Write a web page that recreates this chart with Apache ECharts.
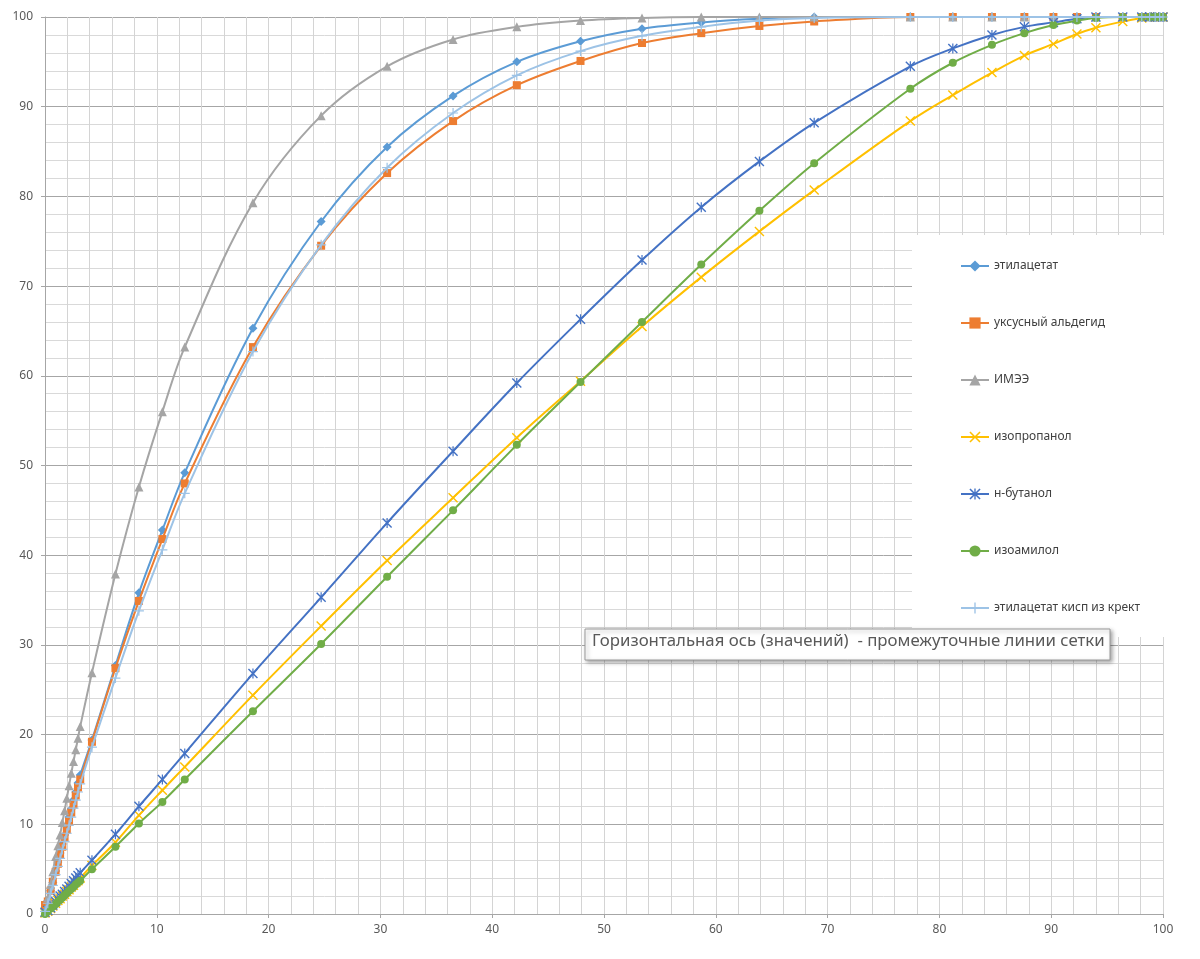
<!DOCTYPE html>
<html>
<head>
<meta charset="utf-8">
<script src="https://cdn.jsdelivr.net/npm/echarts@6/dist/echarts.min.js"></script>
<style>html,body{margin:0;padding:0;background:#fff;}#c{width:1200px;height:959px;}</style>
</head>
<body>
<div id="c"></div>
<script>
var xValues = [0, 0.25, 0.5, 0.7, 0.95, 1.15, 1.35, 1.55, 1.75, 1.95, 2.15, 2.35, 2.55, 2.75, 2.95, 3.15,
  4.2, 6.3, 8.4, 10.5, 12.5, 18.6, 24.7, 30.6, 36.5, 42.2, 47.9, 53.4, 58.7, 63.9, 68.8,
  77.4, 81.2, 84.7, 87.6, 90.2, 92.3, 94.0, 96.4, 98.1, 98.8, 99.3, 99.7, 100];

var seriesNames = ['этилацетат', 'уксусный альдегид', 'ИМЭЭ', 'изопропанол', 'н-бутанол', 'изоамилол', 'этилацетат кисп из крект'];

var ethylacetate = [0.5, 1.5, 2.6, 3.5, 4.8, 5.8, 6.8, 7.8, 8.8, 9.8, 10.8, 11.7, 12.7, 13.6, 14.6, 15.5,
  19.4, 27.7, 35.8, 42.8, 49.2, 65.3, 77.2, 85.5, 91.2, 95.0, 97.3, 98.7, 99.4, 99.8, 100,
  100, 100, 100, 100, 100, 100, 100, 100, 100, 100, 100, 100, 100];
var acetaldehyde = [1.0, 1.4, 2.6, 3.6, 4.7, 5.6, 6.6, 7.5, 8.5, 9.4, 10.3, 11.3, 12.2, 13.2, 14.1, 15.0,
  19.2, 27.4, 34.9, 41.8, 48.0, 63.2, 74.5, 82.6, 88.4, 92.4, 95.1, 97.1, 98.2, 99.0, 99.5,
  100, 100, 100, 100, 100, 100, 100, 100, 100, 100, 100, 100, 100];
var imee = [0.3, 1.8, 3.3, 4.7, 6.4, 7.6, 8.8, 10.2, 11.5, 12.9, 14.3, 15.7, 17.0, 18.3, 19.6, 20.9,
  26.9, 37.9, 47.6, 56.0, 63.2, 79.3, 89.0, 94.5, 97.5, 98.9, 99.6, 99.9, 100, 100, 100,
  100, 100, 100, 100, 100, 100, 100, 100, 100, 100, 100, 100, 100];
var isopropanol = [0.1, 0.3, 0.6, 0.9, 1.2, 1.5, 1.7, 2.0, 2.2, 2.5, 2.7, 3.0, 3.2, 3.5, 3.7, 4.0,
  5.4, 8.0, 11.0, 13.8, 16.4, 24.4, 32.1, 39.4, 46.4, 53.1, 59.4, 65.5, 71.0, 76.1, 80.7,
  88.4, 91.3, 93.8, 95.7, 97.0, 98.1, 98.8, 99.5, 99.9, 100, 100, 100, 100];
var nButanol = [0.2, 0.4, 0.7, 1.0, 1.4, 1.7, 2.0, 2.2, 2.5, 2.8, 3.1, 3.4, 3.7, 4.0, 4.3, 4.6,
  6.0, 8.9, 12.0, 15.0, 17.9, 26.8, 35.3, 43.6, 51.6, 59.2, 66.3, 72.9, 78.8, 83.9, 88.2,
  94.5, 96.5, 98.0, 98.9, 99.4, 99.8, 100, 100, 100, 100, 100, 100, 100];
var isoamylol = [0.0, 0.3, 0.6, 0.8, 1.1, 1.4, 1.6, 1.8, 2.1, 2.3, 2.6, 2.8, 3.0, 3.3, 3.5, 3.7,
  5.0, 7.5, 10.1, 12.5, 15.0, 22.6, 30.1, 37.6, 45.0, 52.3, 59.3, 66.0, 72.4, 78.4, 83.7,
  92.0, 94.9, 96.9, 98.2, 99.1, 99.6, 99.9, 100, 100, 100, 100, 100, 100];
var ethylacetateCrude = [0.3, 1.2, 2.3, 3.2, 4.4, 5.3, 6.2, 7.2, 8.1, 9.0, 9.9, 10.8, 11.8, 12.7, 13.6, 14.5,
  18.6, 26.3, 33.8, 40.6, 46.9, 62.7, 74.6, 83.2, 89.3, 93.5, 96.2, 97.9, 98.9, 99.6, 99.9,
  100, 100, 100, 100, 100, 100, 100, 100, 100, 100, 100, 100, 100];

var xTicks = [0, 10, 20, 30, 40, 50, 60, 70, 80, 90, 100];
var yTicks = [0, 10, 20, 30, 40, 50, 60, 70, 80, 90, 100];

var tooltipText = 'Горизонтальная ось (значений)  - промежуточные линии сетки';

var allY = [ethylacetate, acetaldehyde, imee, isopropanol, nButanol, isoamylol, ethylacetateCrude];
var colors = ['#5B9BD5', '#ED7D31', '#A5A5A5', '#FFC000', '#4472C4', '#70AD47', '#9DC3E6'];
var symX = 'path://M1,0L5,4L9,0L10,1L6,5L10,9L9,10L5,6L1,10L0,9L4,5L0,1Z';
var symStar = 'path://M1,0L5,4L9,0L10,1L6,5L10,9L9,10L5,6L1,10L0,9L4,5L0,1ZM4.4,0H5.6V10H4.4Z';
var symPlus = 'path://M4.4,0H5.6V10H4.4ZM0,4.4H10V5.6H0Z';
var symbols = ['diamond', 'rect', 'triangle', symX, symStar, 'circle', symPlus];
var sizes = [9, 8, 9, 10, 10, 8, 10];

function pairs(ys) {
  return xValues.map(function (x, i) { return [x, ys[i]]; });
}

var series = seriesNames.map(function (name, k) {
  return {
    name: name,
    type: 'line',
    data: pairs(allY[k]),
    smooth: 0.35,
    symbol: symbols[k],
    symbolSize: sizes[k],
    showSymbol: true,
    showAllSymbol: true,
    lineStyle: { color: colors[k], width: 2 },
    itemStyle: { color: colors[k] },
    z: 2 + k * 0.01
  };
});

var chart = echarts.init(document.getElementById('c'), null, { renderer: 'canvas' });
chart.setOption({
  animation: false,
  backgroundColor: '#ffffff',
  color: colors,
  grid: { left: 45, right: 37, top: 17, bottom: 45, containLabel: false },
  xAxis: {
    type: 'value', min: 0, max: 100, interval: 10,
    axisLine: { show: true, lineStyle: { color: '#A6A6A6', width: 1 } },
    axisTick: { show: true, length: 4, lineStyle: { color: '#A6A6A6' } },
    axisLabel: { color: '#595959', fontSize: 12, fontFamily: 'Noto Sans', margin: 10,
      formatter: function (v) { return xTicks.indexOf(v) >= 0 ? String(v) : ''; } },
    splitLine: { show: true, lineStyle: { color: '#D4D4D4', width: 1 } },
    minorTick: { show: false, splitNumber: 5 },
    minorSplitLine: { show: true, lineStyle: { color: '#D4D4D4', width: 1 } }
  },
  yAxis: {
    type: 'value', min: 0, max: 100, interval: 10,
    axisLine: { show: true, lineStyle: { color: '#A6A6A6', width: 1 } },
    axisTick: { show: true, length: 4, lineStyle: { color: '#A6A6A6' } },
    axisLabel: { color: '#595959', fontSize: 12, fontFamily: 'Noto Sans', margin: 12,
      formatter: function (v) { return yTicks.indexOf(v) >= 0 ? String(v) : ''; } },
    splitLine: { show: true, lineStyle: { color: '#A6A6A6', width: 1 } },
    minorTick: { show: false, splitNumber: 5 },
    minorSplitLine: { show: true, lineStyle: { color: '#D9D9D9', width: 1 } }
  },
  legend: {
    orient: 'vertical',
    left: 955, top: 255,
    itemWidth: 28, itemHeight: 14, itemGap: 45,
    textStyle: { color: '#404040', fontSize: 12, fontFamily: 'Noto Sans' },
    data: seriesNames,
    z: 10
  },
  graphic: [
    { type: 'rect', z: 5, silent: true,
      shape: { x: 912, y: 235, width: 258, height: 402 },
      style: { fill: '#ffffff' } },
    { type: 'rect', z: 20, silent: true,
      shape: { x: 585, y: 629, width: 525, height: 31 },
      style: { fill: '#ffffff', stroke: '#9A9A9A', lineWidth: 1,
        shadowBlur: 4, shadowOffsetX: 2, shadowOffsetY: 2, shadowColor: 'rgba(0,0,0,0.35)' } },
    { type: 'text', z: 21, silent: true,
      left: 592, top: 633,
      style: { text: tooltipText, fill: '#595959', font: '16.8px "Noto Sans"' } }
  ],
  series: series
});
</script>
</body>
</html>
